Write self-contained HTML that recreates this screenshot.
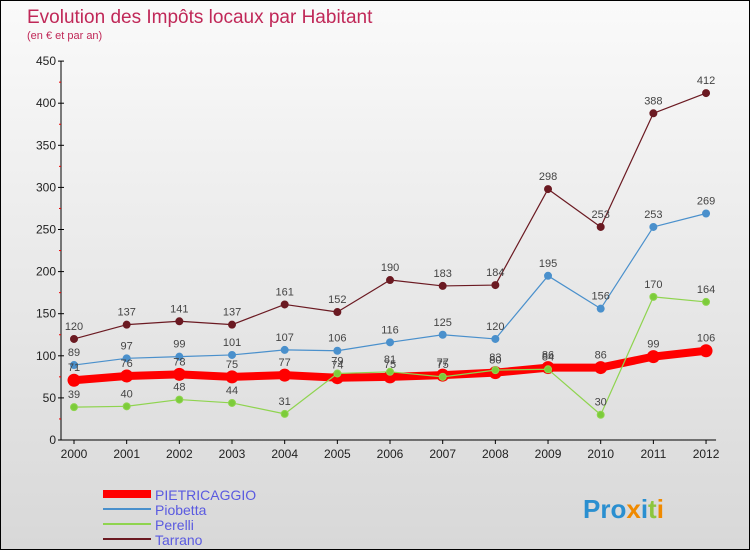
<!DOCTYPE html>
<html><head><meta charset="utf-8"><style>
body{margin:0}
#wrap{width:748px;height:548px;border:1px solid #000;background:linear-gradient(#fafafa,#d8d8d8);position:relative;font-family:"Liberation Sans",sans-serif;overflow:hidden}
text{font-family:"Liberation Sans",sans-serif}
</style></head><body>
<div id="wrap">
<svg id="svg" width="748" height="548">
<text x="26" y="22" font-size="19" fill="#c02858">Evolution des Impôts locaux par Habitant</text>
<text x="26" y="38" font-size="11" fill="#c02858">(en € et par an)</text>
<g id="axes"></g><g id="series"></g><g id="legend"></g>
<text x="582" y="517" font-size="26" font-weight="bold" fill="#2a8fd0">Pro<tspan fill="#f08a00">x</tspan><tspan fill="#2a8fd0">i</tspan><tspan fill="#8cc63f">t</tspan><tspan fill="#f08a00">i</tspan></text>
</svg></div>
<script>
const years=[2000,2001,2002,2003,2004,2005,2006,2007,2008,2009,2010,2011,2012];
const yTicks=[0,50,100,150,200,250,300,350,400,450];
const pietri=[71,76,78,75,77,74,75,77,80,86,86,99,106];
const piobetta=[89,97,99,101,107,106,116,125,120,195,156,253,269];
const perelli=[39,40,48,44,31,79,81,75,83,84,30,170,164];
const tarrano=[120,137,141,137,161,152,190,183,184,298,253,388,412];
const NS="http://www.w3.org/2000/svg";
const X=i=>73+i*52.67, Y=v=>439-v*0.842;
function mk(t,a,p){const e=document.createElementNS(NS,t);for(const k in a)e.setAttribute(k,a[k]);(p||document.getElementById('series')).appendChild(e);return e;}
const ax=document.getElementById('axes');
let e=mk('line',{x1:60,y1:Y(0),x2:60,y2:Y(450),stroke:'#000'},ax);


e=mk('line',{x1:60,y1:Y(0),x2:X(12)+10,y2:Y(0),stroke:'#000'},ax);


yTicks.forEach(v=>{mk('line',{x1:57,y1:Y(v),x2:63,y2:Y(v),stroke:'#000'},ax);
 const t=mk('text',{x:55,y:Y(v)+4,'font-size':12,fill:'#222','text-anchor':'end'},ax);t.textContent=v;
 
 
 if(v<450)mk('line',{x1:58,y1:Y(v+25),x2:60,y2:Y(v+25),stroke:'#e00'},ax);});
years.forEach((y,i)=>{mk('line',{x1:X(i),y1:Y(0),x2:X(i),y2:Y(0)+4,stroke:'#000'},ax);
 const t=mk('text',{x:X(i),y:Y(0)+18,'font-size':12,fill:'#222','text-anchor':'middle'},ax);t.textContent=y;
 
 });
function series(d,col,w,r,fill,name){
 const p=mk('polyline',{points:d.map((v,i)=>X(i)+','+Y(v)).join(' '),fill:'none',stroke:col,'stroke-width':w,'stroke-linejoin':'round'});
 
 
 d.forEach((v,i)=>{const c=mk('circle',{cx:X(i),cy:Y(v),r:r,fill:fill,stroke:col,'stroke-width':1});
  
  
  const t=mk('text',{x:X(i),y:Y(v)-9,'font-size':11,fill:'#444','text-anchor':'middle'});t.textContent=v;
  
  });
}
series(tarrano,'#6b1a22',1.2,3.5,'#6b1a22','tarrano');
series(piobetta,'#4a90cc',1.2,3.5,'#4a90cc','piobetta');
series(pietri,'#f00',8,6,'#f00','pietricaggio');
series(perelli,'#8fd44f',1.2,3.5,'#7ccc3a','perelli');
const lg=document.getElementById('legend');
[['PIETRICAGGIO','#f00',8],['Piobetta','#4a90cc',2],['Perelli','#8fd44f',2],['Tarrano','#6b1a22',2]].forEach((s,i)=>{
 const y=493+i*15;
 const l=mk('line',{x1:102,y1:y,x2:150,y2:y,stroke:s[1],'stroke-width':s[2]},lg);
 
 
 const t=mk('text',{x:154,y:y+6,'font-size':14,fill:'#5a5ae0'},lg);t.textContent=s[0];
 
 });
</script>
</body></html>
